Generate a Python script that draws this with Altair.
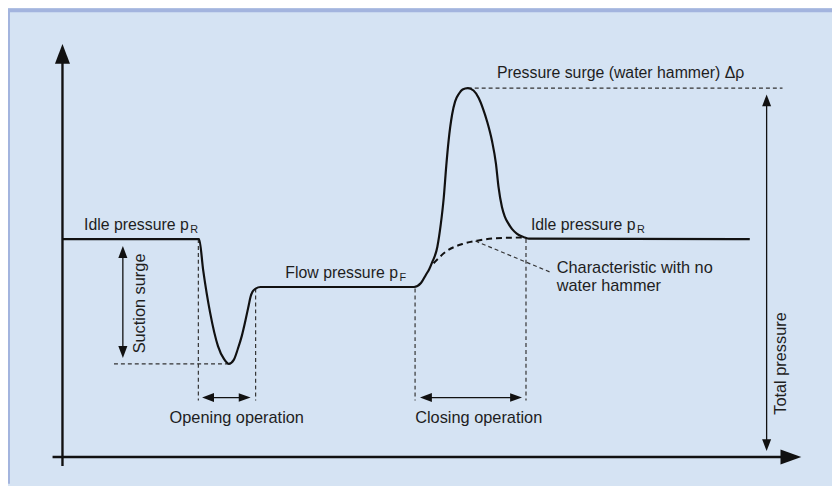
import altair as alt
import pandas as pd

# ---------------- data (schematic units: time t, pressure p) ----------------
# total pressure curve (opening -> flow -> closing with water hammer -> idle)
curve_t = [0, 19.71, 20.29, 21.29, 22.43, 23.29, 24.0, 24.71, 25.29, 25.86, 26.43, 26.86,
           27.14, 27.43, 27.86, 28.57, 50.71, 51.71, 52.43, 52.9, 53.29, 54.07, 54.57, 55.0,
           55.36, 55.69, 56.21, 56.64, 57.21, 57.71, 58.47, 59.29, 60.04, 60.64, 61.24, 61.96,
           62.53, 62.9, 63.39, 63.79, 64.33, 64.86, 65.53, 66.14, 66.71, 67.29, 99.14]
curve_p = [55, 55, 47.25, 36.5, 28, 24.75, 23.5, 24.5, 27.25, 30.5, 34.75, 38.25,
           40.5, 41.75, 42.5, 42.9, 42.9, 43.9, 46, 47.4, 49.0, 53.0, 58.75, 65.5,
           73.5, 79.75, 86.5, 89.75, 91.75, 92.75, 93.1, 92.5, 90.6, 88, 84.75, 79.75,
           74, 68.1, 63.1, 60.75, 58.9, 57.5, 56.4, 55.75, 55.4, 55.1, 55]

# characteristic with no water hammer
nohammer_t = [53.53, 55.29, 57.67, 59.81, 62.43, 66.71]
nohammer_p = [48.9, 51.8, 53.75, 54.6, 55.2, 55.4]

# key levels / instants
P_IDLE, P_FLOW, P_MIN, P_PEAK = 55, 42.9, 23.5, 93.1
T_OPEN_START, T_MIN, T_OPEN_END = 19.6, 24.0, 27.86
T_CLOSE_START, T_PEAK, T_CLOSE_END = 50.86, 58.47, 66.86
P_GUIDE_BOTTOM = 14.25
P_OP_ARROW = 15.0
T_SURGE = 8.71
T_TOTAL = 101.57

X_DOMAIN = [-7.857, 111]
Y_DOMAIN = [-6.75, 112.75]

BG = "#d5e3f3"
BORDER = "#a3b4de"
INK = "#111111"
TXT = "#1e1e1e"
FONT = "Liberation Sans"
FS = 16.5

xs = alt.Scale(domain=X_DOMAIN, nice=False, zero=False)
ys = alt.Scale(domain=Y_DOMAIN, nice=False, zero=False)


def X(f="t"):
    return alt.X(f"{f}:Q", scale=xs, axis=None)


def Y(f="p"):
    return alt.Y(f"{f}:Q", scale=ys, axis=None)


def segs(rows):
    return pd.DataFrame(rows, columns=["t", "p", "t2", "p2"])


def rules(rows, **kw):
    return alt.Chart(segs(rows)).mark_rule(**kw).encode(
        x=X("t"), y=Y("p"), x2="t2:Q", y2="p2:Q")


PATHS = {
    "up": "M0,0L-0.38,1L0.38,1Z",
    "down": "M0,0L-0.38,-1L0.38,-1Z",
    "left": "M0,0L1,-0.38L1,0.38Z",
    "right": "M0,0L-1,-0.36L-1,0.36Z",
}


def heads(rows, direction, length):
    df = pd.DataFrame(rows, columns=["t", "p"])
    return alt.Chart(df).mark_point(
        shape=PATHS[direction], size=(2 * length) ** 2, filled=True,
        color=INK, opacity=1, strokeWidth=0).encode(x=X("t"), y=Y("p"))


def texts(rows, **kw):
    df = pd.DataFrame(rows, columns=["t", "p", "label"])
    base = dict(font=FONT, fontSize=FS, color=TXT)
    base.update(kw)
    return alt.Chart(df).mark_text(**base).encode(x=X("t"), y=Y("p"), text="label:N")


# ---------------- layers ----------------
panel_border = rules([[X_DOMAIN[0], Y_DOMAIN[0], X_DOMAIN[0], Y_DOMAIN[1]],
                      [X_DOMAIN[0], Y_DOMAIN[1], X_DOMAIN[1], Y_DOMAIN[1]]],
                     color=BORDER, strokeWidth=4)

axes = rules([[0, -2.25, 0, 100], [-1.43, 0, 104, 0]], color=INK, strokeWidth=2.4)
axis_heads = heads([[0, 104.25]], "up", 20) + heads([[106.57, 0]], "right", 21)

guides = rules([
    [T_OPEN_START, P_IDLE, T_OPEN_START, P_GUIDE_BOTTOM],
    [T_OPEN_END, P_FLOW - 0.4, T_OPEN_END, P_GUIDE_BOTTOM],
    [T_CLOSE_START, P_FLOW - 0.4, T_CLOSE_START, P_GUIDE_BOTTOM],
    [T_CLOSE_END, P_IDLE, T_CLOSE_END, P_GUIDE_BOTTOM],
    [7.43, P_MIN, T_MIN, P_MIN],
    [T_PEAK, P_PEAK, 103.86, P_PEAK],
    [59.57, 54.5, 70.57, 46.5],
], color="#333333", strokeWidth=1.2, strokeDash=[4, 3])

dim_lines = rules([
    [T_SURGE, 52, T_SURGE, 26],
    [20.8, P_OP_ARROW, 26.5, P_OP_ARROW],
    [52.2, P_OP_ARROW, 65.6, P_OP_ARROW],
    [T_TOTAL, 90, T_TOTAL, 3],
], color=INK, strokeWidth=1.3)

dim_heads = (
    heads([[T_SURGE, 53.25], [T_TOTAL, 91.5]], "up", 12)
    + heads([[T_SURGE, 25.0], [T_TOTAL, 1.5]], "down", 12)
    + heads([[20.14, P_OP_ARROW], [51.57, P_OP_ARROW]], "left", 12)
    + heads([[27.14, P_OP_ARROW], [66.29, P_OP_ARROW]], "right", 12)
)

curve_df = pd.DataFrame({"t": curve_t, "p": curve_p, "i": range(len(curve_t))})
curve = alt.Chart(curve_df).mark_line(
    color=INK, strokeWidth=2.2, interpolate="monotone").encode(
    x=X("t"), y=Y("p"), order="i:Q")

nh_df = pd.DataFrame({"t": nohammer_t, "p": nohammer_p, "i": range(len(nohammer_t))})
nohammer = alt.Chart(nh_df).mark_line(
    color=INK, strokeWidth=2, strokeDash=[6, 4], interpolate="monotone").encode(
    x=X("t"), y=Y("p"), order="i:Q")

# labels ending in a subscripted symbol: main part right-aligned, subscript follows
labels_with_sub = texts([
    [18.21, 57.4, "Idle pressure p"],
    [82.67, 57.4, "Idle pressure p"],
    [48.39, 45.2, "Flow pressure p"],
], align="right", baseline="alphabetic", fontSize=16)

subs = texts([
    [18.42, 56.6, "R"],
    [82.88, 56.6, "R"],
    [48.6, 44.3, "F"],
], align="left", baseline="alphabetic", fontSize=11)

labels_left = texts([
    [71.29, 46.4, "Characteristic with no"],
    [71.29, 41.8, "water hammer"],
], align="left", baseline="alphabetic")

surge_label = texts([
    [62.67, 95.75, "Pressure surge (water hammer) Δρ"],
], align="left", baseline="alphabetic", fontSize=16)

labels_center = texts([
    [25.14, 8.5, "Opening operation"],
    [60.04, 8.5, "Closing operation"],
], align="center", baseline="alphabetic")

labels_rot = texts([
    [11.14, 38.75, "Suction surge"],
    [103.71, 23.6, "Total pressure"],
], align="center", baseline="middle", angle=270)

chart = alt.layer(
    panel_border, guides, nohammer, curve, axes, axis_heads, dim_lines, dim_heads,
    labels_with_sub, subs, labels_left, surge_label, labels_center, labels_rot,
).properties(
    width=832, height=478, padding=0, autosize=alt.AutoSizeParams(type="none"),
    background=BG,
).configure_view(stroke=None)

chart.save("out.html", embed_options={"renderer": "svg", "actions": False})
